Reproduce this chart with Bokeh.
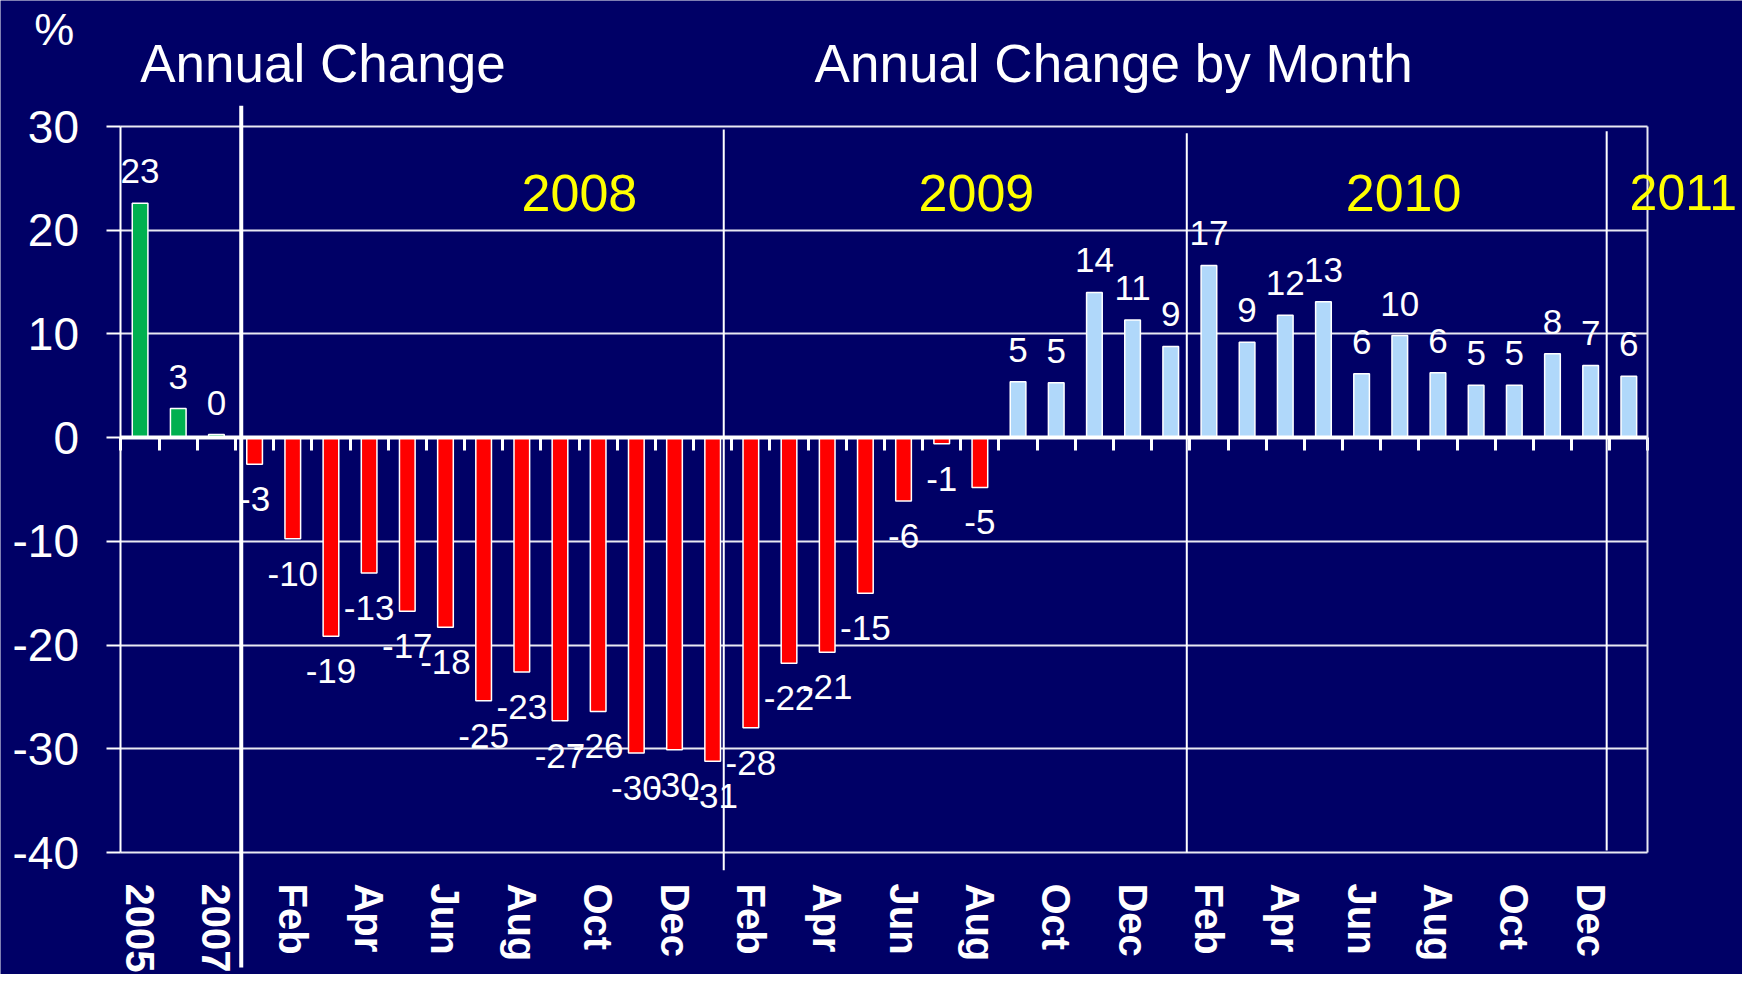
import numpy as np
from bokeh.plotting import figure
from bokeh.models import (ColumnDataSource, Range1d, FixedTicker, Label,
                          LinearAxis, Grid)
from bokeh.core.properties import value
from bokeh.embed import file_html
from bokeh.resources import INLINE

# ---------------- data ----------------
annual_years = ["2005", "2006", "2007"]
annual_change = [22.6, 2.8, 0.3]

months = ["Jan", "Feb", "Mar", "Apr", "May", "Jun",
          "Jul", "Aug", "Sep", "Oct", "Nov", "Dec"]
change_2008 = [-2.57, -9.76, -19.15, -13.04, -16.74, -18.29,
               -25.37, -22.6, -27.3, -26.4, -30.4, -30.1]
change_2009 = [-31.2, -27.96, -21.75, -20.7, -15.0, -6.1,
               -0.6, -4.8, 5.4, 5.3, 14.0, 11.35]
change_2010 = [8.8, 16.6, 9.2, 11.8, 13.1, 6.15,
               9.84, 6.25, 5.06, 5.06, 8.08, 6.96]
change_2011 = [5.93]

tick_labels = ["2005", "2007",
               "Feb", "Apr", "Jun", "Aug", "Oct", "Dec",
               "Feb", "Apr", "Jun", "Aug", "Oct", "Dec",
               "Feb", "Apr", "Jun", "Aug", "Oct", "Dec"]
year_labels = ["2008", "2009", "2010", "2011"]
y_ticks = [-40, -30, -20, -10, 0, 10, 20, 30]

# ---------------- build ----------------
BG = "#000066"
GREEN = "#00B050"
RED = "#FF0000"
LIGHT = "#B0D8FA"
GRID = "#E8E8F2"
FONT = "Liberation Sans"

categories = (annual_years
              + [f"{m} 2008" for m in months]
              + [f"{m} 2009" for m in months]
              + [f"{m} 2010" for m in months]
              + [f"{m} 2011" for m in months[:1]])
values = annual_change + change_2008 + change_2009 + change_2010 + change_2011
n = len(categories)
xs = np.arange(n)
colors = [GREEN] * len(annual_years) + [RED if v < 0 else LIGHT for v in values[len(annual_years):]]
labels = [str(int(round(v))) if round(v) != 0 else "0" for v in values]
yoff = [-32 if v >= 0 else 35 for v in values]

src = ColumnDataSource(dict(x=xs, top=values, color=colors, label=labels, yoff=yoff))

ymin, ymax = min(y_ticks), max(y_ticks)
x_lo, x_hi = -0.5, n - 0.5

# whole canvas is the frame; the chart area sits inside it
p = figure(width=1742, height=974, output_backend="svg", toolbar_location=None,
           title=None, x_axis_location=None, y_axis_location=None,
           x_range=Range1d(-3.6567, 41.978), y_range=Range1d(-51.763, 42.149),
           min_border=0)
p.min_border_left = 0
p.min_border_right = 0
p.min_border_top = 0
p.min_border_bottom = 0
p.background_fill_color = BG
p.border_fill_color = BG
p.outline_line_color = None
p.grid.visible = False

# horizontal grid (limited to the chart area)
ygrid = Grid(dimension=1, ticker=FixedTicker(ticks=y_ticks), cross_bounds=(x_lo, x_hi),
             grid_line_color=GRID, grid_line_width=2)
p.add_layout(ygrid)

# left y axis
ya = LinearAxis(fixed_location=x_lo, bounds=(ymin, ymax),
                ticker=FixedTicker(ticks=y_ticks),
                major_label_overrides={t: str(t) for t in y_ticks})
ya.major_label_text_font = FONT
ya.major_label_text_font_size = "46px"
ya.major_label_text_color = "white"
ya.axis_line_color = "white"
ya.axis_line_width = 2
ya.major_tick_line_color = "white"
ya.major_tick_line_width = 2
ya.major_tick_out = 14
ya.major_tick_in = 0
ya.minor_tick_line_color = None
ya.major_label_standoff = 28
p.add_layout(ya, "left")

# right border line
yr = LinearAxis(fixed_location=x_hi, bounds=(ymin, ymax), ticker=FixedTicker(ticks=[]))
yr.axis_line_color = GRID
yr.axis_line_width = 2
yr.major_tick_line_color = None
yr.minor_tick_line_color = None
yr.major_label_text_color = None
p.add_layout(yr, "right")

# bottom category labels
even = list(range(0, n, 2))
xa = LinearAxis(fixed_location=ymin, bounds=(x_lo, x_hi),
                ticker=FixedTicker(ticks=even),
                major_label_overrides={int(i): lab for i, lab in zip(even, tick_labels)})
xa.major_label_orientation = "vertical"
xa.major_label_text_font = FONT
xa.major_label_text_font_size = "40px"
xa.major_label_text_font_style = "bold"
xa.major_label_text_color = "white"
xa.axis_line_color = None
xa.major_tick_line_color = None
xa.minor_tick_line_color = None
xa.major_label_standoff = 25
p.add_layout(xa, "below")

# bars
p.vbar(x="x", top="top", bottom=0, width=0.41, source=src,
       fill_color="color", line_color="white", line_width=1.5)

# zero axis with ticks at category boundaries
bounds = list(np.arange(n + 1) - 0.5)
za = LinearAxis(fixed_location=0, bounds=(x_lo, x_hi), ticker=FixedTicker(ticks=bounds))
za.axis_line_color = "white"
za.axis_line_width = 4
za.major_tick_line_color = "white"
za.major_tick_line_width = 3
za.major_tick_out = 13
za.major_tick_in = 0
za.minor_tick_line_color = None
za.major_label_text_color = None
za.major_label_text_font_size = "1px"
p.add_layout(za, "below")

# value labels
p.text(x="x", y="top", text="label", source=src, y_offset="yoff",
       text_align="center", text_baseline="alphabetic",
       text_font=value(FONT), text_font_size="35px", text_color="white")

# section separators
sep_x = [2.65, 15.29, 27.42, 38.42]
sep_top = [32.0, 29.7, 29.35, 29.55]
sep_bot = [-51.1, -41.7, -40.0, -39.8]
sep_w = [4, 2, 2, 2]
p.segment(x0=sep_x, y0=sep_top, x1=sep_x, y1=sep_bot,
          line_color="white", line_width=sep_w)

# year labels
for lab, xx, align, fs in zip(year_labels, [11.51, 21.91, 33.1, 39.02],
                              ["center", "center", "center", "left"],
                              ["52px", "52px", "52px", "50px"]):
    p.add_layout(Label(x=xx, y=23.63, text=lab, text_color="#FFFF00",
                       text_font=FONT, text_font_size=fs,
                       text_align=align, text_baseline="alphabetic"))

# titles
p.add_layout(Label(x=-2.774, y=39.4, text="%", text_color="white",
                   text_font=FONT, text_font_size="45px",
                   text_align="left", text_baseline="alphabetic"))
p.add_layout(Label(x=0.003, y=36.04, text="Annual Change", text_color="white",
                   text_font=FONT, text_font_size="53px",
                   text_align="left", text_baseline="alphabetic"))
p.add_layout(Label(x=17.67, y=36.04, text="Annual Change by Month", text_color="white",
                   text_font=FONT, text_font_size="53px",
                   text_align="left", text_baseline="alphabetic"))

open("out.html", "w").write(file_html(p, INLINE))
